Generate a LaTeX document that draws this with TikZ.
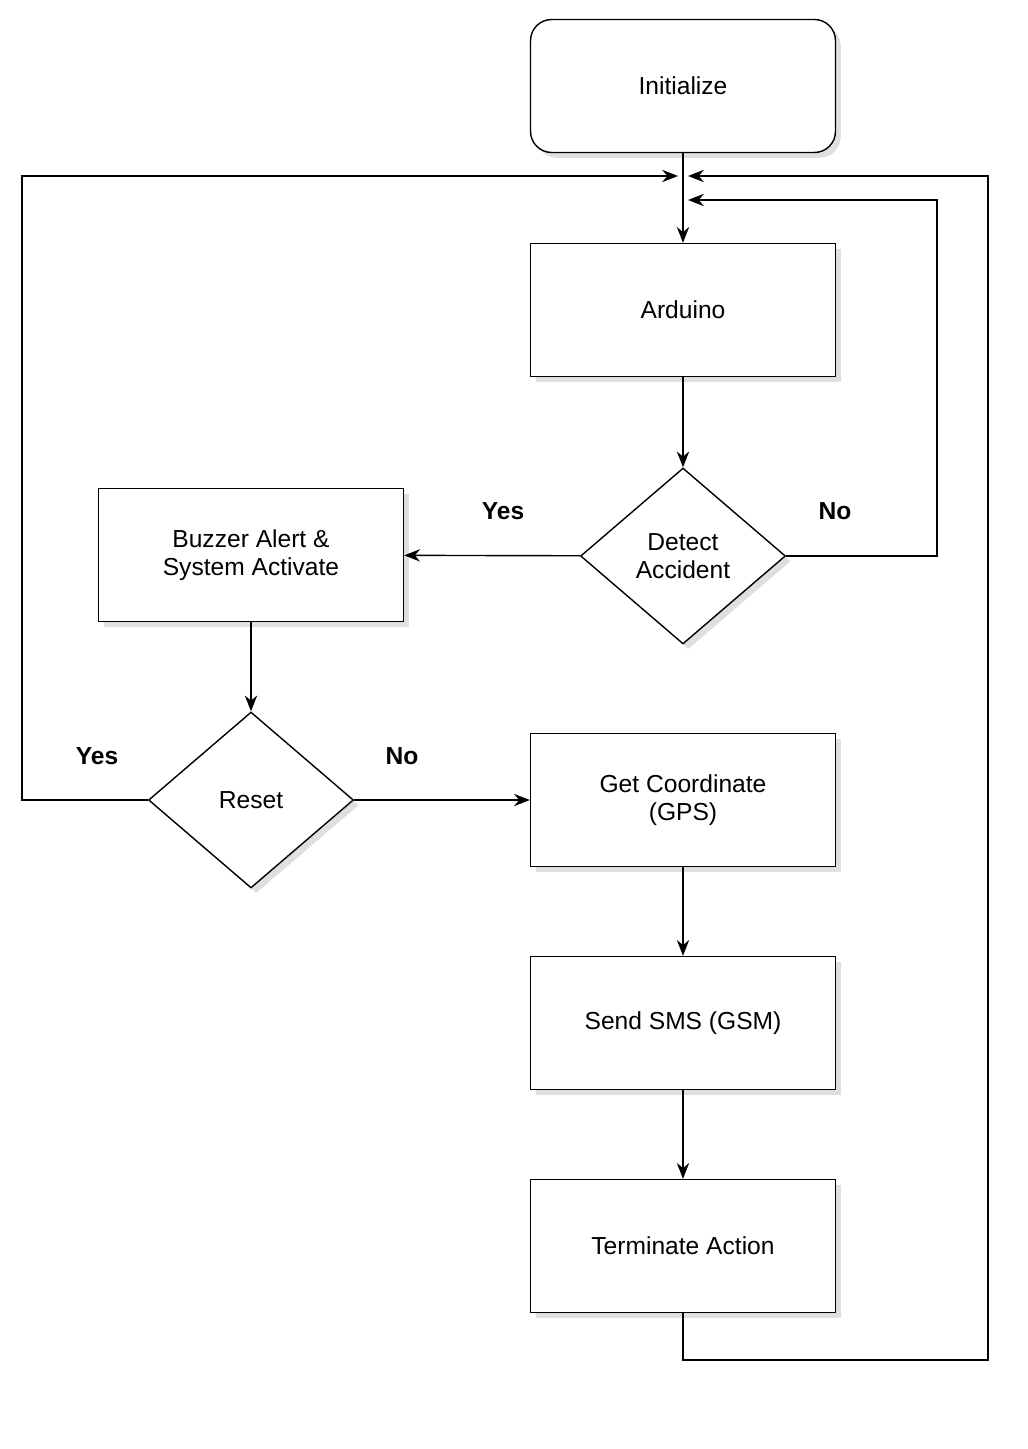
\documentclass[tikz,border=0pt]{standalone}
\usepackage{fontspec}
\setmainfont{Liberation Sans}
\usetikzlibrary{shapes.geometric, shadows, arrows.meta}
\tikzset{
  box/.style={draw, thick, fill=white, minimum width=6.1cm, minimum height=2.66cm, align=center, font=\fontsize{14}{16}\selectfont, drop shadow={opacity=.25, shadow xshift=3pt, shadow yshift=-3pt}},
  start/.style={box, rounded corners=12pt},
  decide/.style={draw, thick, fill=white, diamond, inner sep=0pt, minimum width=4.1cm, minimum height=3.52cm, align=center, font=\fontsize{14}{16}\selectfont, drop shadow={opacity=.25, shadow xshift=3pt, shadow yshift=-3pt}},
  flow/.style={thick, -{Stealth[length=9pt, width=7pt]}},
  lbl/.style={font=\bfseries\fontsize{14}{16}\selectfont}
}
\begin{document}
\begin{tikzpicture}[x=0.02cm, y=-0.02cm]
	\useasboundingbox (0, 0) rectangle (1027, 1449);
	\node[start](init) at (683, 86){Initialize};
	\node[box](ard) at (683, 310){Arduino};
	\node[decide](det) at (683, 556){Detect\\Accident};
	\node[box](buz) at (251, 555){Buzzer Alert \&\\System Activate};
	\node[decide](rst) at (251, 800){Reset};
	\node[box](gps) at (683, 800){Get Coordinate\\(GPS)};
	\node[box](sms) at (683, 1023){Send SMS (GSM)};
	\node[box](term) at (683, 1246){Terminate Action};
	\coordinate (inL) at (678, 176);
	\coordinate (inR) at (688, 176);
	\coordinate (inN) at (688, 200);
	\draw[flow](init)--(ard);
	\draw[flow](ard)--(det);
	\draw[flow](det)--(buz);
	\draw[flow](buz)--(rst);
	\draw[flow](rst)--(gps);
	\draw[flow](gps)--(sms);
	\draw[flow](sms)--(term);
	\draw[flow](det.east)--(937, 556)--(937, 200)--(inN);
	\draw[flow](rst.west)--(22, 800)--(22, 176)--(inL);
	\draw[flow](term.south)--(683, 1360)--(988, 1360)--(988, 176)--(inR);
	\node[lbl] at (503, 511){Yes};
	\node[lbl] at (835, 511){No};
	\node[lbl] at (97, 756){Yes};
	\node[lbl] at (402, 756){No};
\end{tikzpicture}
\end{document}
